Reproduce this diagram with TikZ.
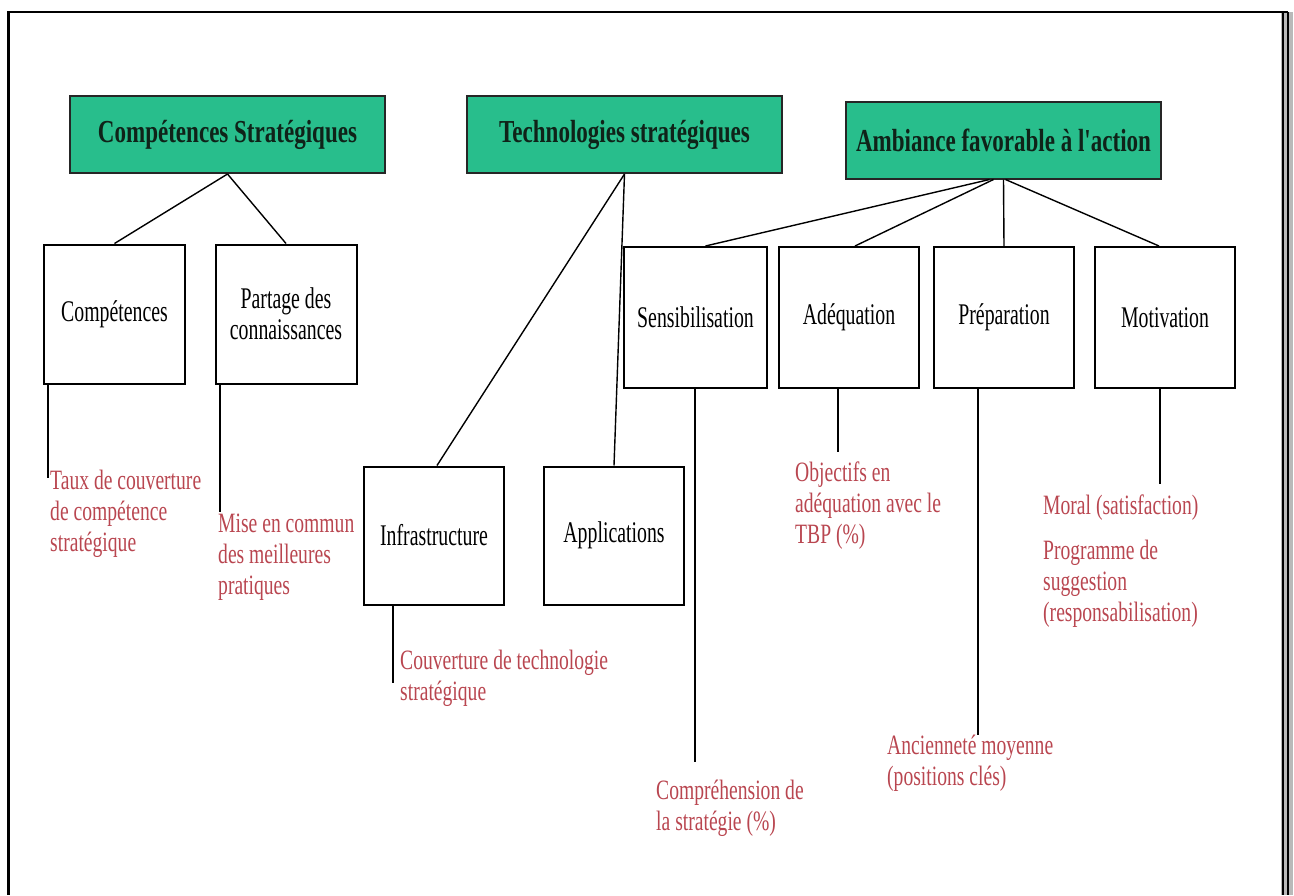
\documentclass[tikz,border=0pt]{standalone}
\usepackage{fontspec}
\setmainfont{Liberation Serif}
\newfontfamily\headfont[FakeStretch=0.72]{Liberation Serif}
\newfontfamily\boxfont[FakeStretch=0.66]{Liberation Serif}
\newfontfamily\notefont[FakeStretch=0.70]{Liberation Serif}
\definecolor{hdrfill}{RGB}{40,190,140}
\definecolor{hdrtext}{RGB}{15,35,25}
\definecolor{noteRed}{RGB}{185,70,80}
\begin{document}
\begin{tikzpicture}[x=1pt,y=-1pt,
  hdr/.style={draw=black!85, line width=2pt, fill=hdrfill, inner sep=0pt,
    minimum width=315pt, minimum height=77pt, text=hdrtext,
    font=\headfont\bfseries\fontsize{32}{34}\selectfont},
  box/.style={draw=black, line width=2pt, fill=white, inner sep=0pt,
    minimum width=141pt, minimum height=139pt, align=center,
    font=\boxfont\fontsize{30}{31}\selectfont},
  note/.style={anchor=north west, inner sep=0pt, align=left, text=noteRed,
    font=\notefont\fontsize{28}{31}\selectfont},
  link/.style={draw=black, line width=1.4pt}]
\useasboundingbox (0,0) rectangle (1294,895);

% page frame, open at the bottom, doubled and shaded on the right
\fill[gray!55] (1281,12) rectangle (1293,895);
\draw[line width=1.3pt] (1283,12) -- (1283,895);
\draw[line width=1.3pt] (1288,12) -- (1288,895);
\draw[line width=1.8pt] (7,12) -- (1288,12);
\draw[line width=3pt] (8.5,11) -- (8.5,895);

% headers
\node[hdr] (hcs) at (227.5,134.5) {Compétences Stratégiques};
\node[hdr] (hts) at (624.5,134.5) {Technologies stratégiques};
\node[hdr] (haf) at (1003.5,140) {Ambiance favorable à l'action};

% second-level boxes
\node[box] (c1) at (114.5,314) {Compétences};
\node[box] (c2) at (286,314) {Partage des\\connaissances};
\node[box, minimum width=143pt, minimum height=141pt] (s1) at (695.5,317.5) {Sensibilisation};
\node[box, minimum width=140pt, minimum height=141pt] (s2) at (849,317.5) {Adéquation};
\node[box, minimum width=140pt, minimum height=141pt] (s3) at (1004,317.5) {Préparation};
\node[box, minimum width=140pt, minimum height=141pt] (s4) at (1165,317.5) {Motivation};
\node[box, minimum width=140pt, minimum height=138pt] (i1) at (434,535.5) {Infrastructure};
\node[box, minimum width=140pt, minimum height=138pt] (i2) at (614,535.5) {Applications};

% tree links
\draw[link] (hcs.south) -- (c1.north);
\draw[link] (hcs.south) -- (c2.north);
\draw[link] (hts.south) -- ([xshift=3pt]i1.north);
\draw[link] (hts.south) -- (i2.north);
\draw[link] ([xshift=-14pt]haf.south) -- ([xshift=10pt]s1.north);
\draw[link] ([xshift=-10pt]haf.south) -- ([xshift=6pt]s2.north);
\draw[link] (haf.south) -- (s3.north);
\draw[link] ([xshift=2pt]haf.south) -- ([xshift=-6pt]s4.north);

% indicators
\node[note] (n1) at (50,470) {Taux de couverture\\de compétence\\stratégique};
\node[note] (n2) at (218,514) {Mise en commun\\des meilleures\\pratiques};
\node[note] (n3) at (400,650) {Couverture de technologie\\stratégique};
\node[note] (n4) at (656,780) {Compréhension de\\la stratégie (\%)};
\node[note] (n5) at (795,462) {Objectifs en\\adéquation avec le\\TBP (\%)};
\node[note] (n6) at (887,735) {Ancienneté moyenne\\(positions clés)};
\node[note] (n7) at (1043,495) {Moral (satisfaction)};
\node[note] (n8) at (1043,540) {Programme de\\suggestion\\(responsabilisation)};

% indicator leaders
\coordinate (e1) at (48,478);
\coordinate (e2) at (220,512);
\coordinate (e3) at (393,683);
\coordinate (e4) at (695,762);
\coordinate (e5) at (838,452);
\coordinate (e6) at (978,735);
\coordinate (e7) at (1160,484);
\draw[link] (c1.south -| e1) -- (e1);
\draw[link] (c2.south -| e2) -- (e2);
\draw[link] (i1.south -| e3) -- (e3);
\draw[link] (s1.south -| e4) -- (e4);
\draw[link] (s2.south -| e5) -- (e5);
\draw[link] (s3.south -| e6) -- (e6);
\draw[link] (s4.south -| e7) -- (e7);
\end{tikzpicture}
\end{document}
